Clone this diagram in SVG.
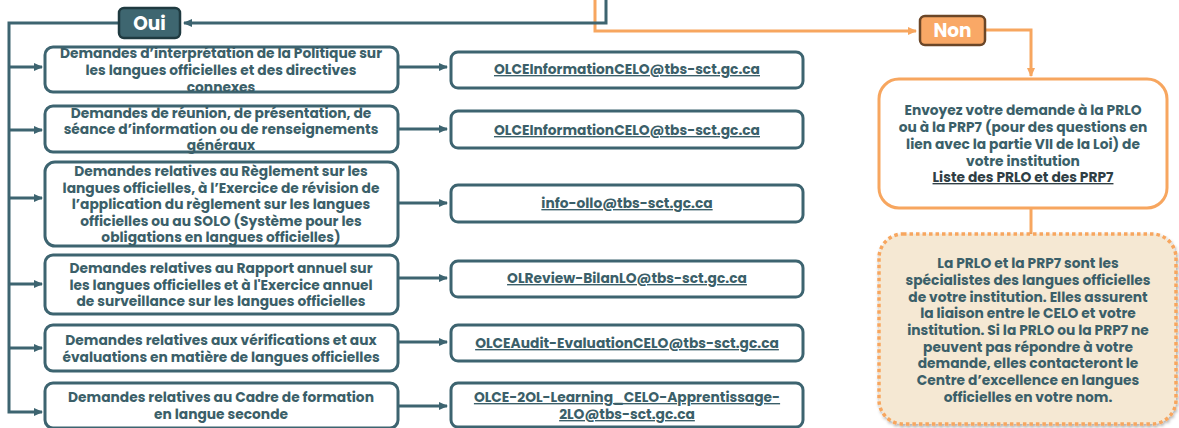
<svg xmlns="http://www.w3.org/2000/svg" width="1179" height="428" viewBox="0 0 1179 428">
<style>
.t{font-family:Poppins,Inter,"Noto Sans",sans-serif;font-weight:700;font-size:13.8px;fill:#3b5f69;text-anchor:middle}
.e{font-family:Poppins,Inter,"Noto Sans",sans-serif;font-weight:700;font-size:13.8px;fill:#3b5f69;text-anchor:middle;text-decoration:underline}
.box{fill:#fff;stroke:#3d6470;stroke-width:3}
.ln{fill:none;stroke:#3d6470;stroke-width:3}
.lo{fill:none;stroke:#f7a65f;stroke-width:3}
</style>
<defs>
<marker id="at" markerUnits="userSpaceOnUse" markerWidth="10" markerHeight="10" refX="8" refY="5" orient="auto"><path d="M0,1 L9,5 L0,9 Z" fill="#3d6470"/></marker>
<marker id="ao" markerUnits="userSpaceOnUse" markerWidth="10" markerHeight="10" refX="8" refY="5" orient="auto"><path d="M0,1 L9,5 L0,9 Z" fill="#f7a65f"/></marker>
<filter id="sh" x="-5%" y="-5%" width="110%" height="110%"><feDropShadow dx="1" dy="2" stdDeviation="1.5" flood-color="#000" flood-opacity="0.3"/></filter>
</defs>
<g id="connectors">
<path class="lo" d="M595,0 V31 H916" marker-end="url(#ao)"/>
<path class="lo" d="M985,30 H1031 V76" marker-end="url(#ao)"/>
<path class="lo" d="M1031,208 V235"/>
<path class="ln" d="M606,0 V23 H184" marker-end="url(#at)"/>
<path class="ln" d="M118,23 H9 V412 H42" marker-end="url(#at)"/>
<path class="ln" d="M9,67 H42" marker-end="url(#at)"/>
<path class="ln" d="M9,130 H42" marker-end="url(#at)"/>
<path class="ln" d="M9,198 H42" marker-end="url(#at)"/>
<path class="ln" d="M9,284 H42" marker-end="url(#at)"/>
<path class="ln" d="M9,348 H42" marker-end="url(#at)"/>
<path class="ln" d="M398,67 H447" marker-end="url(#at)"/>
<path class="ln" d="M398,129 H447" marker-end="url(#at)"/>
<path class="ln" d="M398,203 H447" marker-end="url(#at)"/>
<path class="ln" d="M398,278 H447" marker-end="url(#at)"/>
<path class="ln" d="M398,342 H447" marker-end="url(#at)"/>
<path class="ln" d="M398,406 H447" marker-end="url(#at)"/>
</g>
<g id="oui">
<rect x="119" y="8" width="61" height="30" rx="5" fill="#3e6670" stroke="#1f3a40" stroke-width="2.5"/>
<text x="149.5" y="30" font-family="Poppins,Inter,sans-serif" font-weight="700" font-size="18.5" fill="#fff" text-anchor="middle">Oui</text>
</g>
<g id="non">
<rect x="920" y="16" width="65" height="29" rx="5" fill="#f9a866" stroke="#6b4627" stroke-width="2.5"/>
<text x="952.5" y="37" font-family="Poppins,Inter,sans-serif" font-weight="700" font-size="18.5" fill="#fff" text-anchor="middle">Non</text>
</g>
<g id="reqA">
<rect class="box" x="45" y="47" width="353" height="45" rx="8"/>
<text class="t" x="221" y="58">Demandes d’interprétation de la Politique sur</text>
<text class="t" x="221" y="75">les langues officielles et des directives</text>
<text class="t" x="221" y="92">connexes</text>
</g>
<g id="reqB">
<rect class="box" x="45" y="106" width="353" height="46" rx="8"/>
<text class="t" x="221" y="118">Demandes de réunion, de présentation, de</text>
<text class="t" x="221" y="134">séance d’information ou de renseignements</text>
<text class="t" x="221" y="150">généraux</text>
</g>
<g id="reqC">
<rect class="box" x="45" y="162" width="353" height="84" rx="10"/>
<text class="t" x="221" y="176">Demandes relatives au Règlement sur les</text>
<text class="t" x="221" y="192.5">langues officielles, à l’Exercice de révision de</text>
<text class="t" x="221" y="209">l’application du règlement sur les langues</text>
<text class="t" x="221" y="225.5">officielles ou au SOLO (Système pour les</text>
<text class="t" x="221" y="242">obligations en langues officielles)</text>
</g>
<g id="reqD">
<rect class="box" x="45" y="255" width="353" height="59" rx="8"/>
<text class="t" x="221" y="273">Demandes relatives au Rapport annuel sur</text>
<text class="t" x="221" y="289.5">les langues officielles et à l'Exercice annuel</text>
<text class="t" x="221" y="306">de surveillance sur les langues officielles</text>
</g>
<g id="reqE">
<rect class="box" x="45" y="325" width="353" height="46" rx="8"/>
<text class="t" x="221" y="345">Demandes relatives aux vérifications et aux</text>
<text class="t" x="221" y="362">évaluations en matière de langues officielles</text>
</g>
<g id="reqF">
<rect class="box" x="45" y="383" width="353" height="45" rx="8"/>
<text class="t" x="221" y="402">Demandes relatives au Cadre de formation</text>
<text class="t" x="221" y="419">en langue seconde</text>
</g>
<g id="mailA">
<rect class="box" x="451" y="52" width="352" height="36" rx="7"/>
<text class="e" x="627" y="74">OLCEInformationCELO@tbs-sct.gc.ca</text>
</g>
<g id="mailB">
<rect class="box" x="451" y="111" width="352" height="37" rx="7"/>
<text class="e" x="627" y="135">OLCEInformationCELO@tbs-sct.gc.ca</text>
</g>
<g id="mailC">
<rect class="box" x="451" y="185" width="352" height="37" rx="7"/>
<text class="e" x="627" y="208">info-ollo@tbs-sct.gc.ca</text>
</g>
<g id="mailD">
<rect class="box" x="451" y="261" width="352" height="36" rx="7"/>
<text class="e" x="627" y="283">OLReview-BilanLO@tbs-sct.gc.ca</text>
</g>
<g id="mailE">
<rect class="box" x="451" y="325" width="352" height="36" rx="7"/>
<text class="e" x="627" y="348">OLCEAudit-EvaluationCELO@tbs-sct.gc.ca</text>
</g>
<g id="mailF">
<rect class="box" x="451" y="383" width="352" height="44" rx="7"/>
<text class="e" x="627" y="402">OLCE-2OL-Learning_CELO-Apprentissage-</text>
<text class="e" x="627" y="419">2LO@tbs-sct.gc.ca</text>
</g>
<g id="prlo">
<rect x="879" y="79" width="288" height="129" rx="20" fill="#fff" stroke="#f7a65f" stroke-width="3"/>
<text class="t" x="1023" y="115">Envoyez votre demande à la PRLO</text>
<text class="t" x="1023" y="132">ou à la PRP7 (pour des questions en</text>
<text class="t" x="1023" y="149">lien avec la partie VII de la Loi) de</text>
<text class="t" x="1023" y="166">votre institution</text>
<text class="e" x="1023" y="182" style="fill:#2f3e44">Liste des PRLO et des PRP7</text>
</g>
<g id="note">
<rect x="879" y="234" width="297" height="190" rx="24" fill="#f5e8d3" stroke="#f7a65f" stroke-width="3.5" stroke-dasharray="3.5 3" filter="url(#sh)"/>
<text class="t" x="1028" y="268">La PRLO et la PRP7 sont les</text>
<text class="t" x="1028" y="285">spécialistes des langues officielles</text>
<text class="t" x="1028" y="302">de votre institution. Elles assurent</text>
<text class="t" x="1028" y="318">la liaison entre le CELO et votre</text>
<text class="t" x="1028" y="335">institution. Si la PRLO ou la PRP7 ne</text>
<text class="t" x="1028" y="352">peuvent pas répondre à votre</text>
<text class="t" x="1028" y="368">demande, elles contacteront le</text>
<text class="t" x="1028" y="385">Centre d’excellence en langues</text>
<text class="t" x="1028" y="402">officielles en votre nom.</text>
</g>
</svg>
